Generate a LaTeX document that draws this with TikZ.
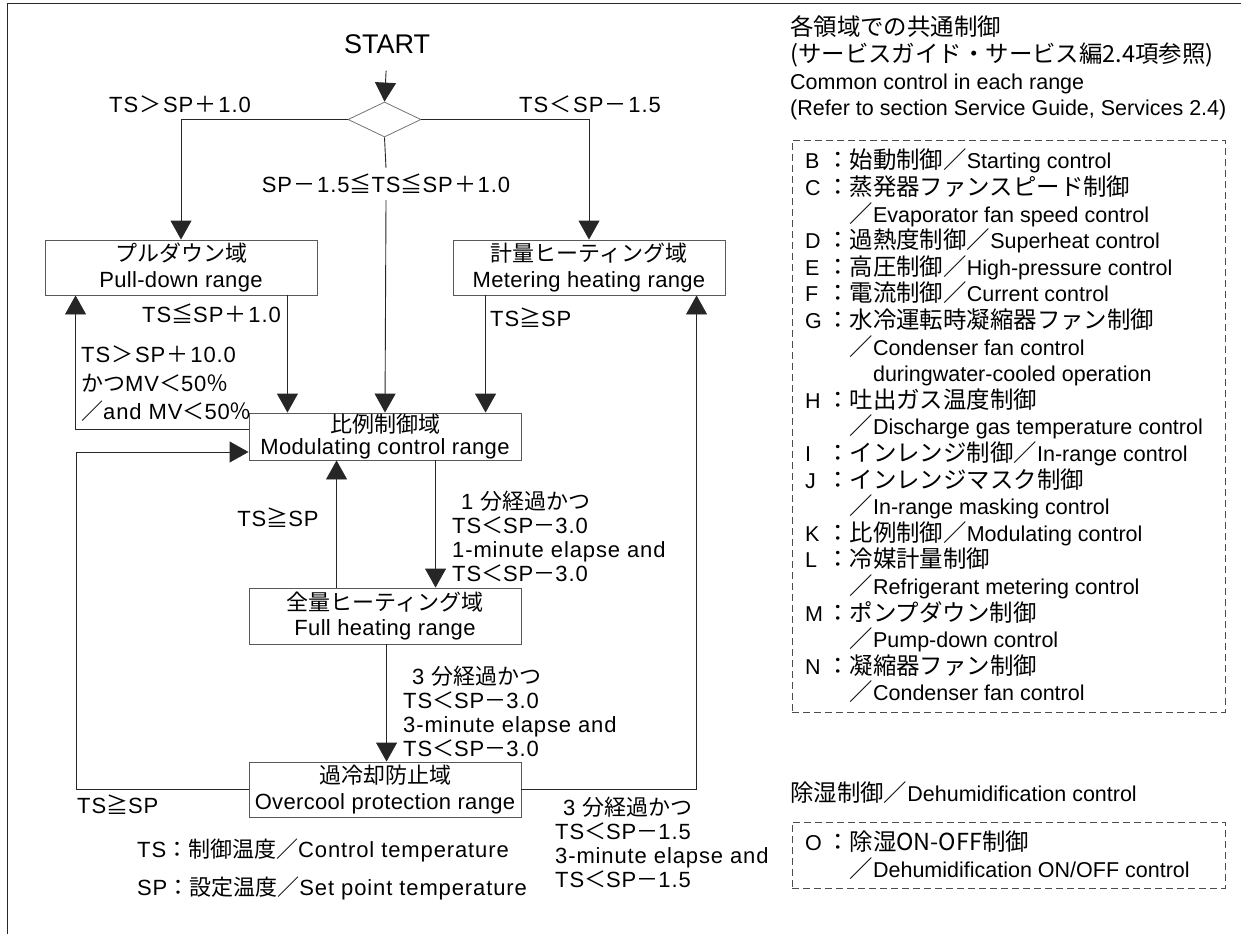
\documentclass[tikz,border=0pt]{standalone}
\usepackage{fontspec}
\setmainfont{Liberation Sans}
\newfontfamily\flowf{Liberation Sans}[LetterSpace=4]
\newfontfamily\boxf{Liberation Sans}[LetterSpace=1.5]
\newfontfamily\jpf{Noto Sans CJK JP}
\newfontfamily\jpfb{Noto Sans CJK JP}[Scale=1.09]
\usetikzlibrary{arrows.meta,shapes.geometric}
\newcommand\jp[1]{{\jpf #1}}
\newcommand\itm[1]{\makebox[21pt][l]{#1}\jp{：}}
\newcommand\cnt{\hspace*{21pt}\hphantom{\jp{：}}}
\newcommand\op[1]{\hspace{1.5pt}\jp{#1}\hspace{1.5pt}}
\begin{document}
\begin{tikzpicture}[x=1pt,y=-1pt,
  box/.style={draw=black!65, line width=0.9pt, minimum width=272pt, inner sep=0pt, align=center, font=\fontsize{22}{26}\selectfont\boxf},
  arr/.style={draw=black!85, line width=0.9pt, -{Triangle[length=19pt,width=21pt]}},
  ln/.style={draw=black!85, line width=0.9pt},
  lbl/.style={inner sep=0pt, font=\fontsize{22}{24}\selectfont\flowf, align=left},
  pan/.style={inner sep=0pt, font=\fontsize{21.5}{26.6}\selectfont\let\jpf\jpfb, align=left},
  dbox/.style={draw=black!70, dash pattern=on 7pt off 4pt, line width=0.8pt, inner sep=0pt}
]
\useasboundingbox (0,0) rectangle (1241,934);
% frame
\draw[ln] (7.5,934) -- (7.5,3.5) -- (1241,3.5);

% nodes
\node[inner sep=0pt, font=\fontsize{27}{30}\selectfont] (start) at (387,44) {START};
\node[diamond, draw=black!55, line width=0.8pt, minimum width=73pt, minimum height=35pt, inner sep=0pt] (dec) at (384.5,119.5) {};
\node[box, minimum height=55pt] (pull) at (181,267.5) {\jp{プルダウン域}\\Pull-down range};
\node[box, minimum height=55pt] (meter) at (589,267.5) {\jp{計量ヒーティング域}\\Metering heating range};
\node[box, minimum height=47pt, font=\fontsize{22}{21.5}\selectfont\boxf] (mod) at (385,436.5) {\jp{比例制御域}\\Modulating control range};
\node[box, minimum height=56pt, font=\fontsize{22}{25}\selectfont\boxf] (full) at (385,616) {\jp{全量ヒーティング域}\\Full heating range};
\node[box, minimum height=55pt] (over) at (385,789.5) {\jp{過冷却防止域}\\Overcool protection range};

% labels
\node[lbl] (c1) at (180,104) {TS\op{＞}SP\op{＋}1.0};
\node[lbl] (c2) at (590,104) {TS\op{＜}SP\op{－}1.5};
\node[lbl, inner sep=6pt] (c3) at (386,184) {SP\op{－}1.5\jp{≦}TS\jp{≦}SP\op{＋}1.0};
\node[lbl, anchor=east] (c4) at (281,314) {TS\jp{≦}SP\op{＋}1.0};
\node[lbl, anchor=west] (c5) at (490,318) {TS\jp{≧}SP};
\node[lbl, anchor=west, font=\fontsize{22}{28.5}\selectfont\flowf] (c6) at (81,384) {TS\op{＞}SP\op{＋}10.0\\\jp{かつ}MV\jp{＜}50\jp{％}\\\jp{／}and MV\jp{＜}50\jp{％}};
\node[lbl] (c7) at (278,518) {TS\jp{≧}SP};
\node[lbl, anchor=west] (c8) at (452,536) {\hspace*{9pt}1 \jp{分経過かつ}\\TS\jp{＜}SP\jp{－}3.0\\1-minute elapse and\\TS\jp{＜}SP\jp{－}3.0};
\node[lbl, anchor=west] (c9) at (403,711) {\hspace*{9pt}3 \jp{分経過かつ}\\TS\jp{＜}SP\jp{－}3.0\\3-minute elapse and\\TS\jp{＜}SP\jp{－}3.0};
\node[lbl, anchor=west] (c10) at (555,842) {\hspace*{8pt}3 \jp{分経過かつ}\\TS\jp{＜}SP\jp{－}1.5\\3-minute elapse and\\TS\jp{＜}SP\jp{－}1.5};
\node[lbl, anchor=west] (c11) at (77,805) {TS\jp{≧}SP};
\node[lbl, anchor=west] (n1) at (137,850) {TS\jp{：制御温度／}Control temperature};
\node[lbl, anchor=west] (n2) at (137,888) {SP\jp{：設定温度／}Set point temperature};

% connectors
\coordinate (loopL) at (76,452);
\draw[arr, shorten <=17pt] (start.south) -- (dec.north);
\draw[arr] (dec.west) -| (pull.north);
\draw[arr] (dec.east) -| (meter.north);
\draw[ln] (dec.south) -- (c3.north);
\draw[arr] (c3.south) -- (mod.north);
\draw[arr] ([xshift=-30pt]pull.south east) -- ([xshift=-30pt]pull.south east |- mod.north);
\draw[arr] ([xshift=33pt]meter.south west) -- ([xshift=33pt]meter.south west |- mod.north);
\draw[arr] ([yshift=-17pt]mod.north west) -| ([xshift=31pt]pull.south west);
\draw[arr] (over.west) -| (loopL) -- (mod.west |- loopL);
\draw[arr] ([xshift=187pt]mod.south west) -- ([xshift=187pt]mod.south west |- full.north);
\draw[arr] ([xshift=88pt]full.north west) -- ([xshift=88pt]full.north west |- mod.south);
\draw[arr] ([xshift=138pt]full.south west) -- ([xshift=138pt]full.south west |- over.north);
\draw[arr] (over.east) -| ([xshift=244pt]meter.south west);

% right panel
\node[pan, anchor=west] (hdr) at (790,68) {\jp{各領域での共通制御}\\\jp{(サービスガイド・サービス編2.4項参照)}\\Common control in each range\\(Refer to section Service Guide, Services 2.4)};
\node[dbox, minimum width=433pt, minimum height=572pt] (legbox) at (1008.5,426) {};
\node[pan, anchor=west] (leg) at (805,426) {%
\itm{B}\jp{始動制御／}Starting control\\
\itm{C}\jp{蒸発器ファンスピード制御}\\
\cnt\jp{／}Evaporator fan speed control\\
\itm{D}\jp{過熱度制御／}Superheat control\\
\itm{E}\jp{高圧制御／}High-pressure control\\
\itm{F}\jp{電流制御／}Current control\\
\itm{G}\jp{水冷運転時凝縮器ファン制御}\\
\cnt\jp{／}Condenser fan control\\
\cnt\hphantom{\jp{／}}duringwater-cooled operation\\
\itm{H}\jp{吐出ガス温度制御}\\
\cnt\jp{／}Discharge gas temperature control\\
\itm{I}\jp{インレンジ制御／}In-range control\\
\itm{J}\jp{インレンジマスク制御}\\
\cnt\jp{／}In-range masking control\\
\itm{K}\jp{比例制御／}Modulating control\\
\itm{L}\jp{冷媒計量制御}\\
\cnt\jp{／}Refrigerant metering control\\
\itm{M}\jp{ポンプダウン制御}\\
\cnt\jp{／}Pump-down control\\
\itm{N}\jp{凝縮器ファン制御}\\
\cnt\jp{／}Condenser fan control};
\node[pan, anchor=west] (dehum) at (790,793) {\jp{除湿制御／}Dehumidification control};
\node[dbox, minimum width=433pt, minimum height=66pt] (dbox2) at (1008.5,855) {};
\node[pan, anchor=west] (leg2) at (805,855) {\itm{O}\jp{除湿ON-OFF制御}\\\cnt\jp{／}Dehumidification ON/OFF control};
\end{tikzpicture}
\end{document}
